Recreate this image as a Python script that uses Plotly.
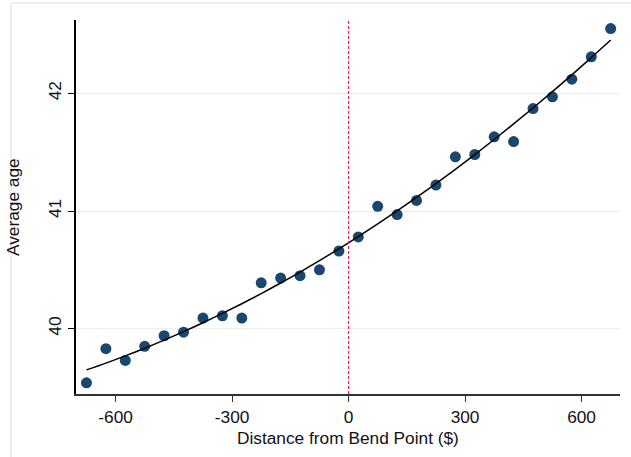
import numpy as np
import plotly.graph_objects as go

# Bin midpoints (distance from bend point, $)
distance = [-675, -625, -575, -525, -475, -425, -375, -325, -275, -225, -175, -125, -75, -25,
            25, 75, 125, 175, 225, 275, 325, 375, 425, 475, 525, 575, 625, 675]
# Average age per bin
avg_age = [39.54, 39.83, 39.73, 39.85, 39.94, 39.97, 40.09, 40.11, 40.09, 40.39, 40.43, 40.45, 40.50, 40.66,
           40.78, 41.04, 40.97, 41.09, 41.22, 41.46, 41.48, 41.63, 41.59, 41.87, 41.97, 42.12, 42.31, 42.55]

x_ticks = [-600, -300, 0, 300, 600]
y_ticks = [40, 41, 42]

x_title = "Distance from Bend Point ($)"
y_title = "Average age"

# Quadratic fit through the binned points
coef = np.polyfit(distance, avg_age, 2)
fit_x = np.array(distance, dtype=float)
fit_y = np.polyval(coef, fit_x)

FONT = "Liberation Sans, Arial, sans-serif"
NAVY = "#1a476f"

fig = go.Figure()
fig.add_trace(go.Scatter(
    x=distance, y=avg_age, mode="markers",
    marker=dict(color=NAVY, size=11, line=dict(width=0)),
    showlegend=False, hoverinfo="x+y"))
fig.add_trace(go.Scatter(
    x=fit_x, y=fit_y, mode="lines", line=dict(color="black", width=1.5, shape="spline"),
    showlegend=False, hoverinfo="skip"))

# vertical dashed line at bend point
fig.add_shape(type="line", xref="x", yref="paper", x0=0, x1=0, y0=0, y1=1,
              line=dict(color="#e31b4f", width=1.1, dash="3px,2px"), layer="above")
# faint graph-region outline
fig.add_shape(type="rect", xref="paper", yref="paper", x0=-0.1195, x1=1.2, y0=-0.3, y1=1.0455,
              line=dict(color="#e3ebee", width=1.5), layer="below")

# axis titles
fig.add_annotation(text=x_title, xref="paper", yref="paper", x=0.5, y=-0.1165,
                   xanchor="center", yanchor="middle", showarrow=False, borderpad=0,
                   font=dict(size=17.3, family=FONT, color="#111111"))
fig.add_annotation(text=y_title, xref="paper", yref="paper", x=-0.1158, y=0.5,
                   xanchor="center", yanchor="middle", showarrow=False, textangle=-90,
                   font=dict(size=17.3, family=FONT, color="#111111"))

fig.update_layout(
    width=631, height=457,
    margin=dict(l=76, r=11, t=20, b=63, autoexpand=False),
    paper_bgcolor="white", plot_bgcolor="white",
    font=dict(family=FONT, size=17, color="#111111"),
    xaxis=dict(
        range=[-702, 699], tickvals=x_ticks, ticktext=[str(v) for v in x_ticks],
        showgrid=False, zeroline=False, automargin=False,
        showline=True, linecolor="#333333", linewidth=1.5,
        ticks="outside", ticklen=6, tickwidth=1.2, tickcolor="#333333",
        tickfont=dict(size=17.3, family=FONT),
    ),
    yaxis=dict(
        range=[39.445, 42.623], tickvals=y_ticks, ticktext=[str(v) for v in y_ticks],
        showgrid=True, gridcolor="#e8f0f2", gridwidth=1.2, zeroline=False, automargin=False,
        showline=True, linecolor="black", linewidth=1.5,
        ticks="outside", ticklen=6, tickwidth=1.2, tickcolor="black",
        tickangle=-90, tickfont=dict(size=17.3, family=FONT),
    ),
)

fig.write_html("out.html", config={"displayModeBar": False},
               post_script="document.body.style.margin='0';")
